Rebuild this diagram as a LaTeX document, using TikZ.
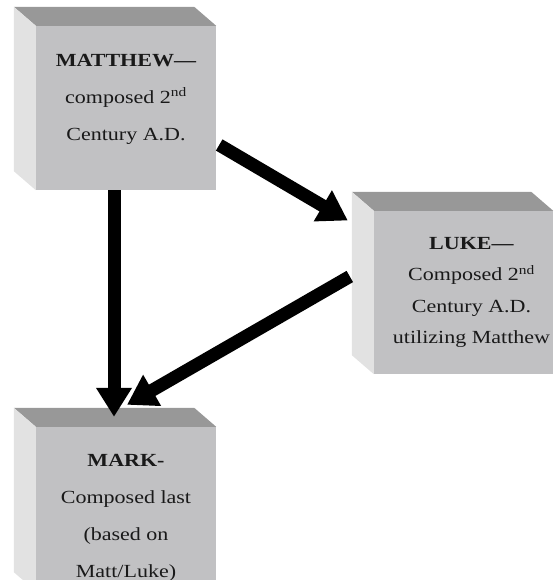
\documentclass[tikz,border=0pt]{standalone}
\usepackage{fontspec}
\setmainfont{Liberation Serif}[FakeStretch=1.19]
\usepackage{xcolor}
\usetikzlibrary{arrows.meta,positioning}
\definecolor{Front}{RGB}{193,193,195}
\definecolor{Top}{RGB}{152,152,152}
\definecolor{Side}{RGB}{226,226,226}
\definecolor{Ink}{RGB}{25,25,25}
\tikzset{
  facebox/.style={fill=Front,minimum width=180pt,minimum height=164pt,inner sep=0pt},
  gospel/.style={align=center,text=Ink,inner sep=0pt,font=\fontsize{18.5}{37}\selectfont},
  push/.style={-{Triangle[length=29pt,width=34pt]},line width=13pt,draw=black}
}

\begin{document}
\begin{tikzpicture}[x=1pt,y=1pt]
\useasboundingbox (0,0) rectangle (555,580);
\node[facebox] (matthew) at (126,472) {};
\node[facebox,minimum width=179pt,minimum height=163pt] (luke) at (463.5,287.5) {};
\node[facebox] (mark) at (126,71) {};
% top and left faces of each block
\foreach \n in {matthew,luke,mark}{
  \fill[Top] (\n.north west) -- ++(-22,19) -- ([xshift=-22pt,yshift=19pt]\n.north east) -- (\n.north east) -- cycle;
  \fill[Side] (\n.north west) -- ++(-22,19) -- ([xshift=-22pt,yshift=19pt]\n.south west) -- (\n.south west) -- cycle;
}
\node[gospel] (matthewtext) at ([yshift=9pt]matthew.center) {\textbf{MATTHEW—}\\composed 2\textsuperscript{nd}\\Century A.D.};
\node[gospel,font=\fontsize{18.5}{31.5}\selectfont] (luketext) at ([xshift=8pt]luke.center) {\textbf{LUKE—}\\Composed 2\textsuperscript{nd}\\Century A.D.\\utilizing Matthew};
\node[gospel] (marktext) at ([yshift=-8.5pt]mark.center) {\textbf{MARK-}\\Composed last\\(based on\\Matt/Luke)};
\draw[push] ([xshift=-12pt]matthew.south) -- ([xshift=-12pt,yshift=10pt]mark.north);
\draw[push] ([xshift=3pt,yshift=-37pt]matthew.east) -- ([xshift=-26pt,yshift=72pt]luke.west);
\draw[push] ([xshift=-24pt,yshift=16pt]luke.west) -- ([xshift=1pt,yshift=22pt]mark.north);
\end{tikzpicture}
\end{document}
